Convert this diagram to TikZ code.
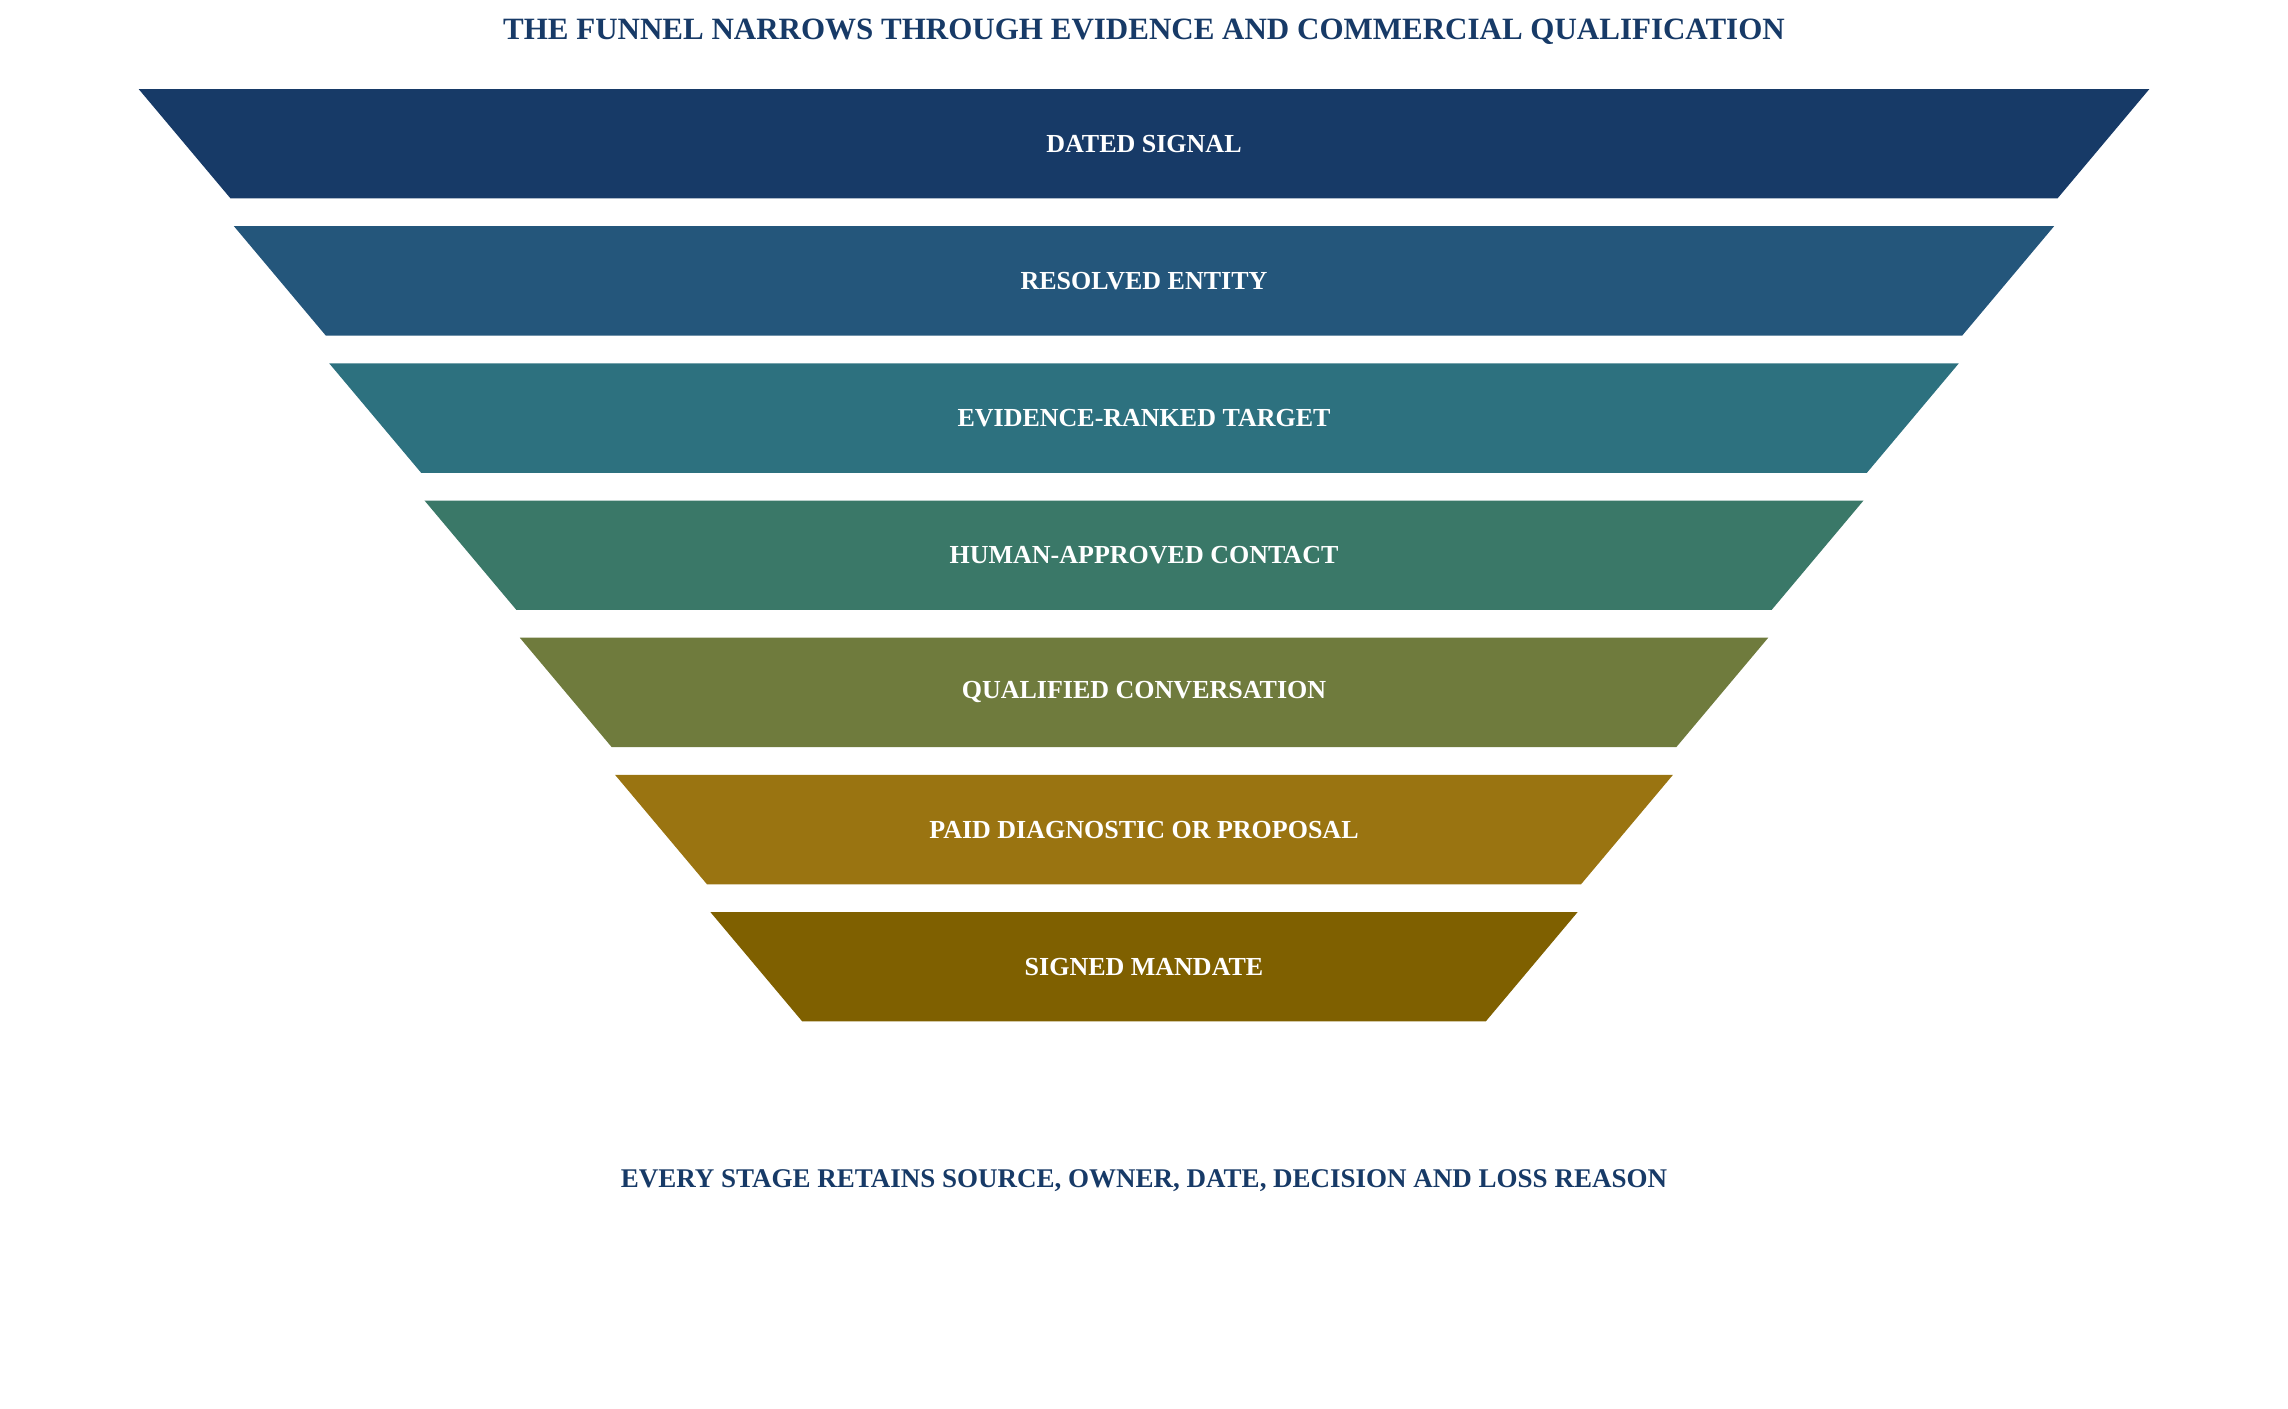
\documentclass[tikz,border=0pt]{standalone}
\usepackage{fontspec}
\setmainfont{Liberation Serif}
\definecolor{c1}{HTML}{173A67}
\definecolor{c2}{HTML}{24567B}
\definecolor{c3}{HTML}{2D717F}
\definecolor{c4}{HTML}{3A7868}
\definecolor{c5}{HTML}{6F7B3D}
\definecolor{c6}{HTML}{9A7411}
\definecolor{c7}{HTML}{7F6000}
\begin{document}
\begin{tikzpicture}[x=1.4592pt,y=-1.4592pt,
  lab/.style={text=white,font=\fontsize{26}{30}\selectfont\bfseries},
  head/.style={text=c1,font=\fontsize{31}{36}\selectfont\bfseries}]
\useasboundingbox (0,0) rectangle (1568,965);
\node[head] (title) at (784,22) {THE FUNNEL NARROWS THROUGH EVIDENCE AND COMMERCIAL QUALIFICATION};
\foreach \i/\c/\t in {0/c1/DATED SIGNAL,1/c2/RESOLVED ENTITY,2/c3/EVIDENCE-RANKED TARGET,3/c4/HUMAN-APPROVED CONTACT,4/c5/QUALIFIED CONVERSATION,5/c6/PAID DIAGNOSTIC OR PROPOSAL,6/c7/SIGNED MANDATE}{
  \pgfmathsetmacro\yt{61+94*\i}
  \pgfmathsetmacro\yb{136+94*\i}
  \pgfmathsetmacro\xl{95+65.3*\i}
  \pgfmathsetmacro\xr{1473-65.3*\i}
  \fill[\c] (\xl,\yt) -- (\xr,\yt) -- (\xr-63,\yb) -- (\xl+63,\yb) -- cycle;
  \node[lab] (s\i) at (784,{(\yt+\yb)/2}) {\t};
}
\node[head,font=\fontsize{27}{32}\selectfont\bfseries] (foot) at (784,809) {EVERY STAGE RETAINS SOURCE, OWNER, DATE, DECISION AND LOSS REASON};
\end{tikzpicture}
\end{document}
